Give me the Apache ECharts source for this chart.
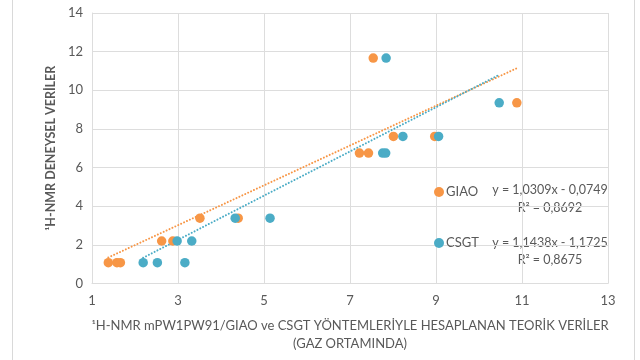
<!DOCTYPE html>
<html>
<head>
<meta charset="utf-8">
<script src="https://cdn.jsdelivr.net/npm/echarts@6/dist/echarts.min.js"></script>
<style>
  html, body { margin: 0; padding: 0; background: #fff; }
  #chart { width: 640px; height: 360px; }
</style>
</head>
<body>
<div id="chart"></div>
<script>
// Experimental 1H-NMR shifts (ppm) and the computed values from both methods
const giaoCalc = [1.38, 1.58, 1.66, 2.62, 2.88, 3.51, 4.40, 7.22, 7.43, 7.54, 8.01, 8.97, 10.88];
const giaoExp  = [1.08, 1.08, 1.08, 2.20, 2.20, 3.38, 3.38, 6.75, 6.75, 11.67, 7.61, 7.61, 9.35];
const csgtCalc = [2.19, 2.52, 3.16, 2.98, 3.32, 4.33, 5.14, 7.76, 7.83, 7.84, 8.23, 9.06, 10.47];
const csgtExp  = [1.08, 1.08, 1.08, 2.20, 2.20, 3.38, 3.38, 6.75, 6.75, 11.67, 7.61, 7.61, 9.35];

// Linear trend lines: [slope, intercept, R²]
const giaoTrend = [1.0309, -0.0749, 0.8692];
const csgtTrend = [1.1438, -1.1725, 0.8675];

// Axis ticks
const xTickLabels = [1, 3, 5, 7, 9, 11, 13];
const yTickLabels = [0, 2, 4, 6, 8, 10, 12, 14];

const ORANGE = '#F79646';
const BLUE = '#4BACC6';
const TEXT = '#595959';
const GRID = '#DDDDDD';
const FONT = 'Lato, "Open Sans", sans-serif';

const pairs = (xs, ys) => xs.map((x, i) => [x, ys[i]]);
const fmt = v => v.toFixed(4).replace('.', ',');
const eqText = t => 'y = ' + fmt(t[0]) + 'x ' + (t[1] < 0 ? '- ' : '+ ') + fmt(Math.abs(t[1]));
const trendPoints = (xs, t) => {
  const lo = Math.min(...xs), hi = Math.max(...xs);
  return [[lo, t[0] * lo + t[1]], [hi, t[0] * hi + t[1]]];
};
const dotted = color => ({ color: color, width: 2, type: [0.01, 3.2], cap: 'round' });
const eqLabel = (text, y) => ({
  type: 'text', x: 550, y: y, silent: true,
  style: { text: text, fill: TEXT, font: '12.5px ' + FONT, align: 'center', verticalAlign: 'middle' }
});

const chart = echarts.init(document.getElementById('chart'), null, { renderer: 'canvas' });

chart.setOption({
  animation: false,
  backgroundColor: '#fff',
  grid: { left: 92, right: 32, top: 13, bottom: 76.5, containLabel: false },
  xAxis: [
    // data axis (computed shifts)
    { type: 'value', min: xTickLabels[0], max: xTickLabels[xTickLabels.length - 1], show: false, position: 'bottom' },
    // display axis: ticks every 2 starting from 1
    {
      type: 'value', position: 'bottom',
      min: 0, max: xTickLabels[xTickLabels.length - 1] - xTickLabels[0], interval: 2,
      axisLine: { show: true, lineStyle: { color: GRID, width: 1 } },
      axisTick: { show: false },
      splitLine: { show: true, lineStyle: { color: GRID, width: 1 } },
      axisLabel: {
        color: TEXT, fontFamily: FONT, fontSize: 13, margin: 11,
        formatter: v => String(xTickLabels[Math.round(v / 2)])
      },
      name: '\u00B9H-NMR mPW1PW91/GIAO ve CSGT YÖNTEMLERİYLE HESAPLANAN TEORİK VERİLER\n(GAZ ORTAMINDA)',
      nameLocation: 'middle', nameGap: 33,
      nameTextStyle: { color: TEXT, fontFamily: FONT, fontSize: 13, lineHeight: 18 }
    }
  ],
  yAxis: {
    type: 'value', min: yTickLabels[0], max: yTickLabels[yTickLabels.length - 1], interval: 2,
    axisLine: { show: true, lineStyle: { color: GRID, width: 1 } },
    axisTick: { show: false },
    splitLine: { show: true, lineStyle: { color: GRID, width: 1 } },
    axisLabel: { color: TEXT, fontFamily: FONT, fontSize: 13, margin: 9 },
    name: '\u00B9H-NMR DENEYSEL VERİLER',
    nameLocation: 'middle', nameGap: 35, nameRotate: 90,
    nameTextStyle: { color: TEXT, fontFamily: FONT, fontSize: 12.5, fontWeight: 'bold' }
  },
  legend: {
    data: ['GIAO', 'CSGT'],
    orient: 'vertical', left: 434, top: 185, padding: 0,
    itemWidth: 10, itemHeight: 10, itemGap: 37,
    icon: 'circle',
    textStyle: { color: TEXT, fontFamily: FONT, fontSize: 13, lineHeight: 14, padding: [0, 0, 0, -3] }
  },
  graphic: [
    // outer chart frame
    { type: 'rect', silent: true, shape: { x: 12.5, y: -5, width: 622, height: 370 },
      style: { fill: 'none', stroke: '#D9D9D9', lineWidth: 1 } },
    eqLabel(eqText(giaoTrend), 190),
    eqLabel('R\u00B2 = ' + fmt(giaoTrend[2]), 208),
    eqLabel(eqText(csgtTrend), 243),
    eqLabel('R\u00B2 = ' + fmt(csgtTrend[2]), 260)
  ],
  series: [
    {
      name: 'GIAO trend', type: 'line', xAxisIndex: 0, data: trendPoints(giaoCalc, giaoTrend),
      symbol: 'none', z: 1, lineStyle: dotted(ORANGE)
    },
    {
      name: 'CSGT trend', type: 'line', xAxisIndex: 0, data: trendPoints(csgtCalc, csgtTrend),
      symbol: 'none', z: 1, lineStyle: dotted(BLUE)
    },
    {
      name: 'GIAO', type: 'scatter', xAxisIndex: 0, data: pairs(giaoCalc, giaoExp),
      symbolSize: 9.5, itemStyle: { color: ORANGE, opacity: 1 }, z: 2
    },
    {
      name: 'CSGT', type: 'scatter', xAxisIndex: 0, data: pairs(csgtCalc, csgtExp),
      symbolSize: 9.5, itemStyle: { color: BLUE, opacity: 1 }, z: 3
    }
  ]
});
</script>
</body>
</html>
